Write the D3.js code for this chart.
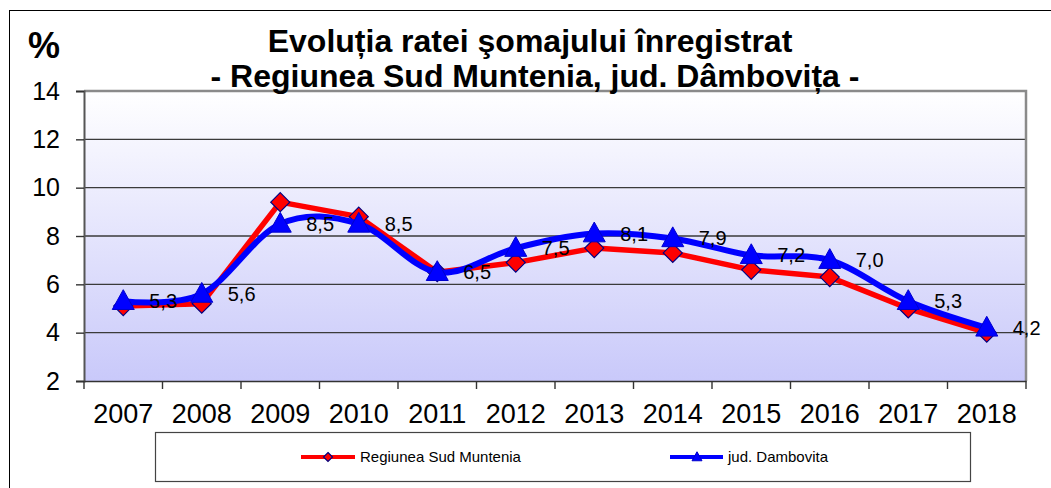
<!DOCTYPE html>
<html><head><meta charset="utf-8">
<script src="https://cdn.jsdelivr.net/npm/d3@7"></script>
<style>html,body{margin:0;padding:0;background:#fff;}svg{display:block;font-family:"Liberation Sans",Arial,sans-serif;}</style>
</head><body>
<script>
const years = ["2007","2008","2009","2010","2011","2012","2013","2014","2015","2016","2017","2018"];
const sudMuntenia = [5.1, 5.2, 9.4, 8.8, 6.5, 6.9, 7.5, 7.3, 6.6, 6.3, 5.0, 4.0];
const dambovita = [5.3, 5.6, 8.5, 8.5, 6.5, 7.5, 8.1, 7.9, 7.2, 7.0, 5.3, 4.2];
const yTicks = [2, 4, 6, 8, 10, 12, 14];
const seriesNames = ["Regiunea Sud Muntenia", "jud. Dambovita"];
const titleLines = ["Evolu\u021Bia ratei \u015Fomajului \u00EEnregistrat", "- Regiunea Sud Muntenia, jud. D\u00E2mbovi\u021Ba -"];

const W = 1051, H = 488;
const svg = d3.select("body").append("svg").attr("width", W).attr("height", H);

const x = d3.scaleBand().domain(years).range([84, 1026]).padding(0);
const y = d3.scaleLinear().domain([2, 14]).range([381, 91]);

// outer frame
svg.append("rect").attr("x", 9.5).attr("y", 10.5).attr("width", 1200).attr("height", 600)
  .attr("fill", "none").attr("stroke", "#000").attr("stroke-width", 1);

// gradient
const defs = svg.append("defs");
const grad = defs.append("linearGradient").attr("id", "bg").attr("x1", 0).attr("y1", 0).attr("x2", 0).attr("y2", 1);
grad.append("stop").attr("offset", "0%").attr("stop-color", "#ffffff");
grad.append("stop").attr("offset", "100%").attr("stop-color", "#c9c9fa");

svg.append("rect").attr("x", 84).attr("y", y(14)).attr("width", 1026 - 84).attr("height", y(2) - y(14))
  .attr("fill", "url(#bg)");

// gridlines
svg.append("g").selectAll("line").data(yTicks.filter(d => d > 2 && d < 14)).join("line")
  .attr("x1", 84).attr("x2", 1026).attr("y1", d => y(d)).attr("y2", d => y(d))
  .attr("stroke", "#3a3a3a").attr("stroke-width", 1.4);

// plot border top/right
svg.append("path").attr("d", `M84,${y(14)}H1026V${y(2)}`).attr("fill", "none")
  .attr("stroke", "#8a8a8a").attr("stroke-width", 2.5);

// y axis
const yAxis = svg.append("g").attr("transform", "translate(84,0)")
  .call(d3.axisLeft(y).tickValues(yTicks).tickSize(8).tickPadding(16).tickFormat(d3.format("d")));
yAxis.select(".domain").attr("stroke", "#555").attr("stroke-width", 2);
yAxis.selectAll(".tick line").attr("stroke", "#333").attr("stroke-width", 1.4);
yAxis.selectAll("text").attr("font-size", 25).attr("fill", "#000")
  .attr("font-family", "'Liberation Sans',Arial,sans-serif");

// x axis
const xAxis = svg.append("g").attr("transform", `translate(0,${y(2)})`)
  .call(d3.axisBottom(x).tickSize(0).tickPadding(0));
xAxis.select(".domain").attr("stroke", "#333").attr("stroke-width", 1.6);
xAxis.selectAll("text").attr("font-size", 27).attr("fill", "#000").attr("dy", null)
  .attr("y", 42).attr("font-family", "'Liberation Sans',Arial,sans-serif");
// boundary ticks
const bounds = years.map(d => x(d)).concat([x(years[years.length - 1]) + x.bandwidth()]);
svg.append("g").selectAll("line").data(bounds).join("line")
  .attr("x1", d => d).attr("x2", d => d).attr("y1", y(2)).attr("y2", y(2) + 8)
  .attr("stroke", "#333").attr("stroke-width", 1.4);

const cx = d => x(d) + x.bandwidth() / 2;

// lines
const lineRed = d3.line().x((d, i) => cx(years[i])).y(d => y(d));
const lineBlue = d3.line().x((d, i) => cx(years[i])).y(d => y(d)).curve(d3.curveCardinal.tension(0));

svg.append("path").datum(sudMuntenia).attr("d", lineRed).attr("fill", "none")
  .attr("stroke", "#ff0000").attr("stroke-width", 5.5).attr("stroke-linejoin", "round");

const diamond = (cxv, cyv, r) => `M${cxv},${cyv - r}L${cxv + r},${cyv}L${cxv},${cyv + r}L${cxv - r},${cyv}Z`;
const tri = (cxv, cyv, r) => `M${cxv},${cyv - r * 1.05}L${cxv + r},${cyv + r * 0.75}L${cxv - r},${cyv + r * 0.75}Z`;

svg.append("g").selectAll("path").data(sudMuntenia).join("path")
  .attr("d", (d, i) => diamond(cx(years[i]), y(d), 9.5))
  .attr("fill", "#ff0000").attr("stroke", "#000080").attr("stroke-width", 1.2);

svg.append("path").datum(dambovita).attr("d", lineBlue).attr("fill", "none")
  .attr("stroke", "#0000ff").attr("stroke-width", 6).attr("stroke-linejoin", "round");

svg.append("g").selectAll("path").data(dambovita).join("path")
  .attr("d", (d, i) => tri(cx(years[i]), y(d), 11))
  .attr("fill", "#0000ff").attr("stroke", "#0000cc").attr("stroke-width", 1);

// data labels
const fmt = d => d3.format(".1f")(d).replace(".", ",");
svg.append("g").selectAll("text").data(dambovita).join("text")
  .attr("x", (d, i) => cx(years[i]) + 26).attr("y", d => y(d)).attr("dy", "0.35em")
  .attr("font-size", 20).attr("fill", "#000").text(fmt);

// titles
svg.append("text").attr("x", 530).attr("y", 52).attr("text-anchor", "middle")
  .attr("font-size", 32).attr("font-weight", "bold").text(titleLines[0]);
svg.append("text").attr("x", 535).attr("y", 87).attr("text-anchor", "middle")
  .attr("font-size", 32).attr("font-weight", "bold").text(titleLines[1]);
svg.append("text").attr("x", 28).attr("y", 58).attr("font-size", 36).attr("font-weight", "bold").text("%");

// legend
svg.append("rect").attr("x", 155.5).attr("y", 432.5).attr("width", 815).attr("height", 49)
  .attr("fill", "#fff").attr("stroke", "#444").attr("stroke-width", 1.2);
const lg = svg.append("g");
lg.append("line").attr("x1", 301).attr("x2", 355).attr("y1", 457).attr("y2", 457)
  .attr("stroke", "#ff0000").attr("stroke-width", 4);
lg.append("path").attr("d", diamond(328, 457, 4.5)).attr("fill", "#ff0000").attr("stroke", "#000080").attr("stroke-width", 1.2);
lg.append("text").attr("x", 360).attr("y", 457).attr("dy", "0.35em").attr("font-size", 15).text(seriesNames[0]);
lg.append("line").attr("x1", 670).attr("x2", 723).attr("y1", 457).attr("y2", 457)
  .attr("stroke", "#0000ff").attr("stroke-width", 4);
lg.append("path").attr("d", tri(697, 457, 5)).attr("fill", "#0000ff").attr("stroke", "#0000cc").attr("stroke-width", 1);
lg.append("text").attr("x", 728).attr("y", 457).attr("dy", "0.35em").attr("font-size", 15).text(seriesNames[1]);
</script>
</body></html>
